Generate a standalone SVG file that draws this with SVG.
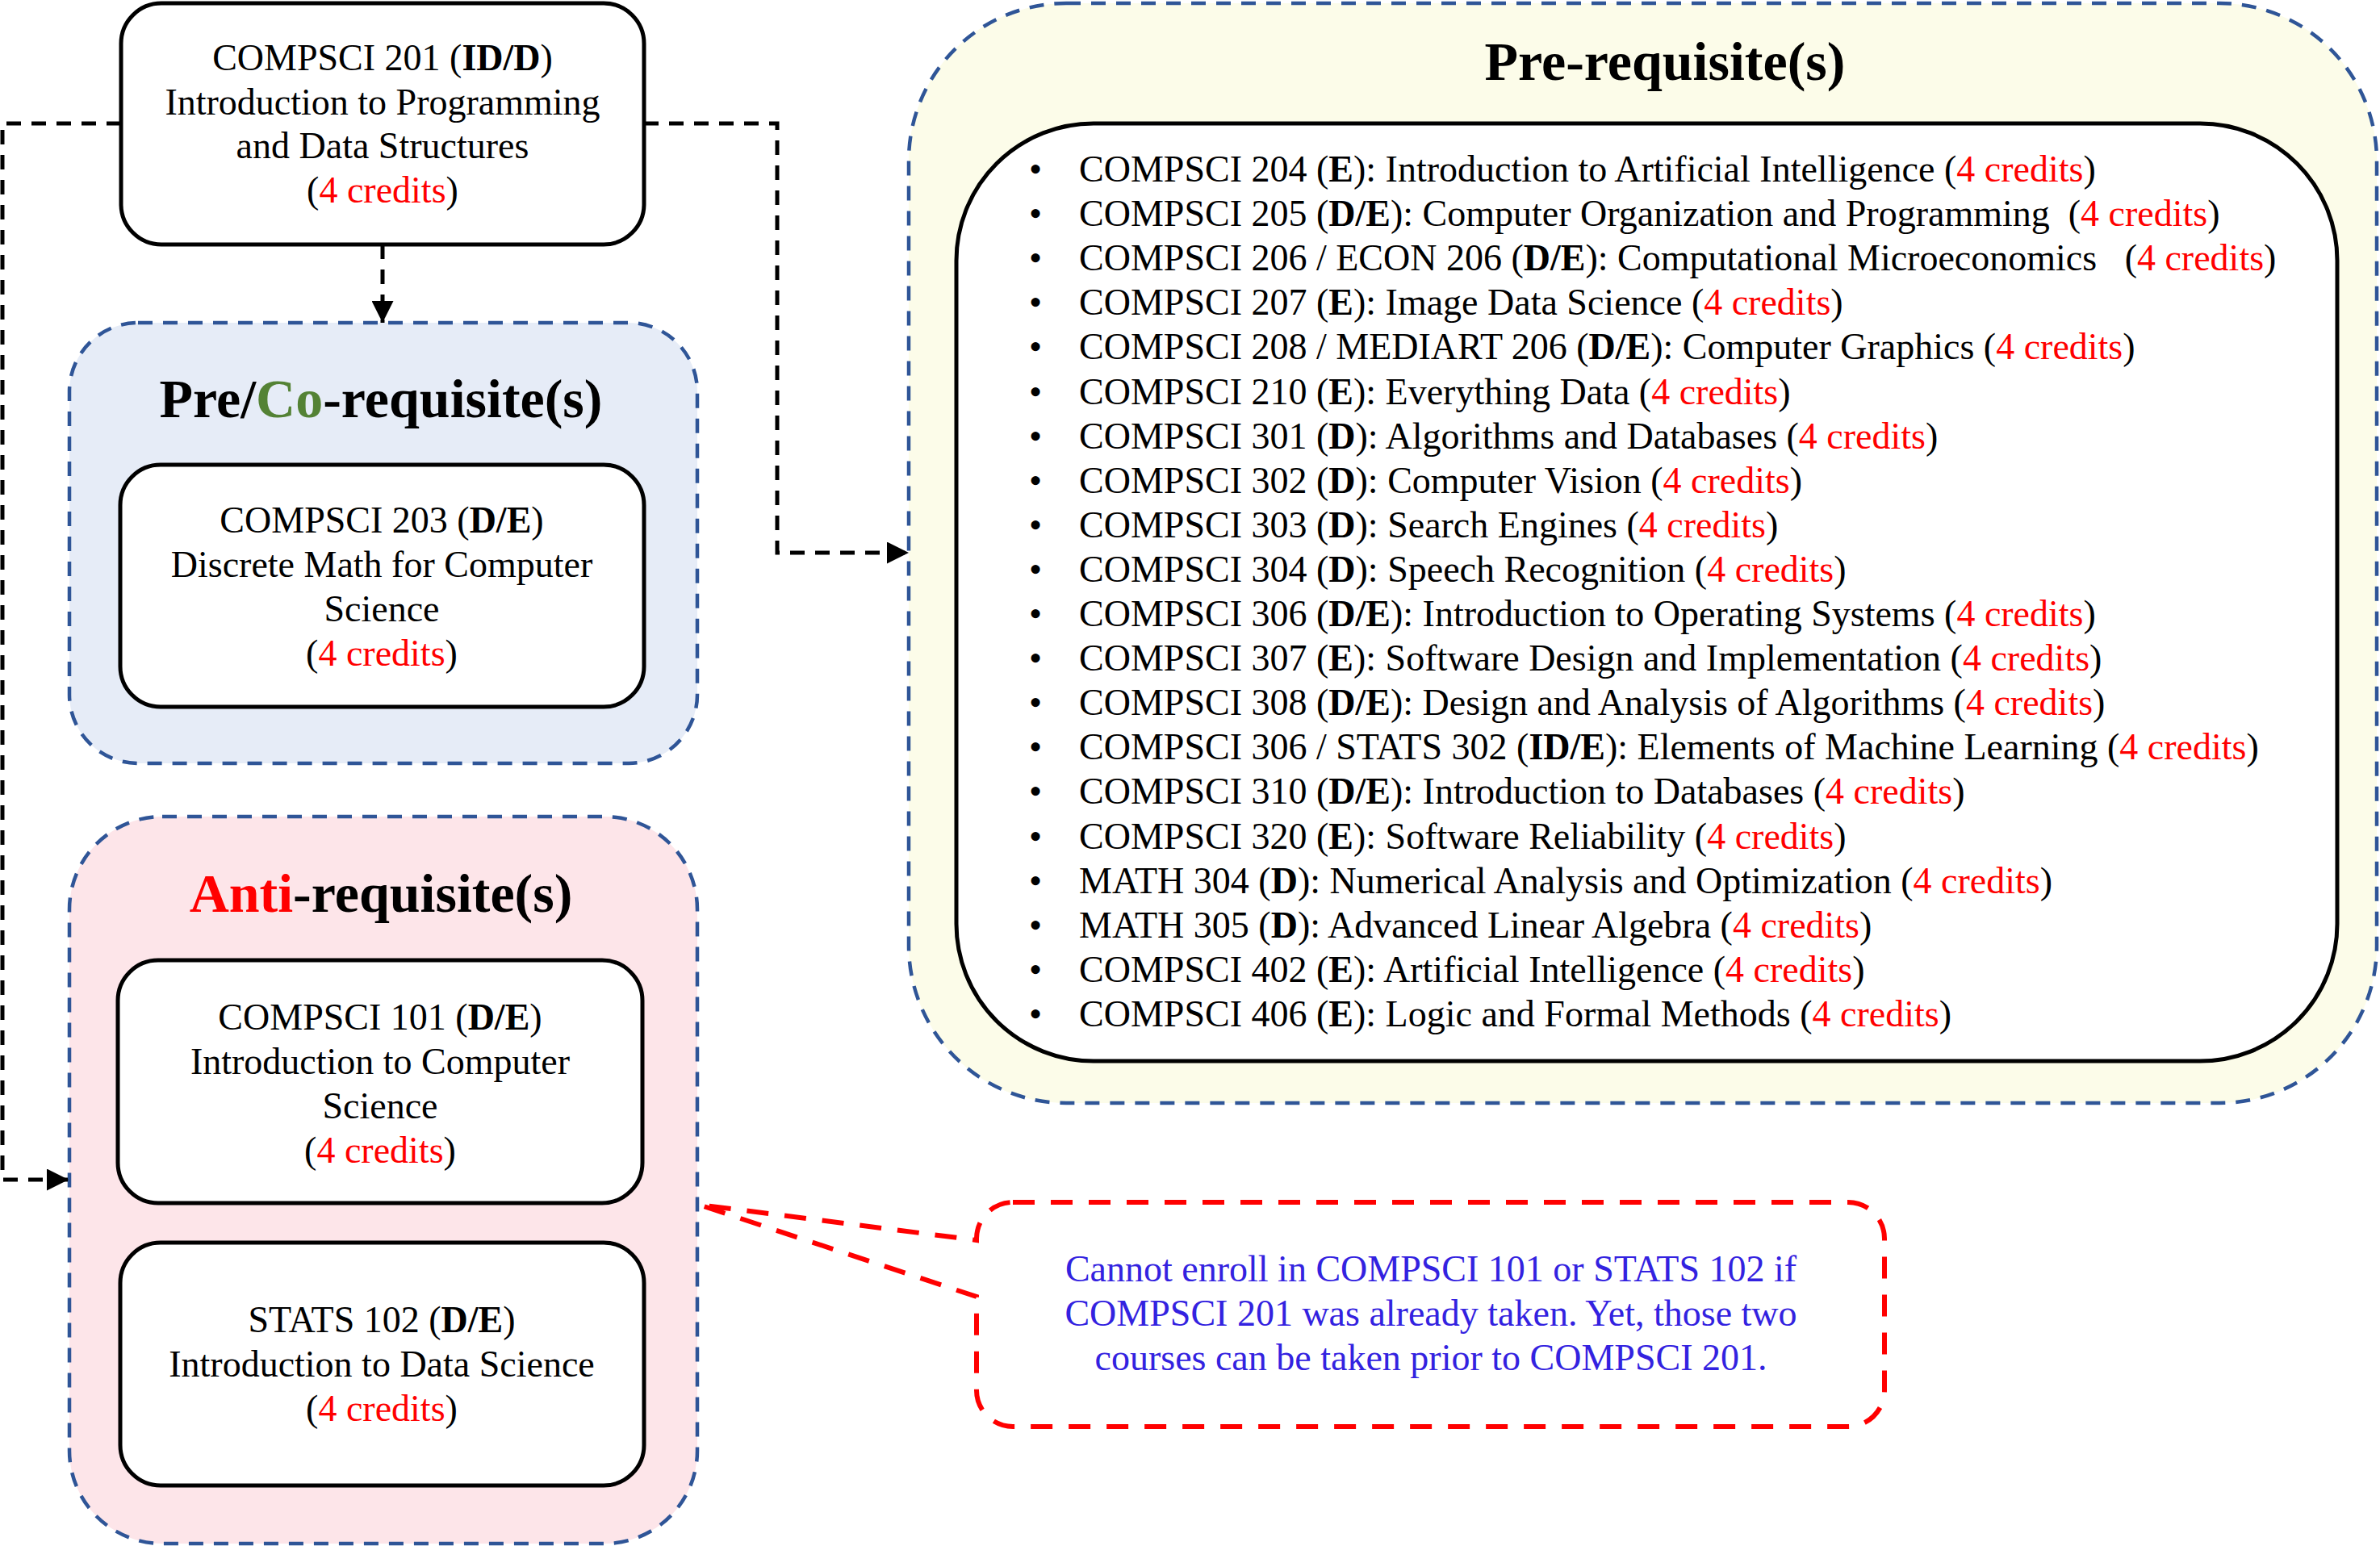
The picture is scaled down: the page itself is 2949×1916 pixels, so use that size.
<svg xmlns="http://www.w3.org/2000/svg" width="2949" height="1916" viewBox="0 0 2949 1916">
<style>
.t{font-family:"Liberation Serif","Times New Roman",serif;font-size:46px;fill:#000}
.m{text-anchor:middle}
.b{font-weight:bold}
.r{fill:#FF0000}
.g{fill:#548235}
.h{font-size:68px;font-weight:bold}
.bl{fill:#3322E0}
.box{fill:#FFFFFF;stroke:#000;stroke-width:5}
.cont{stroke:#2F5597;stroke-width:4.5;stroke-dasharray:18 13}
.conn{fill:none;stroke:#000;stroke-width:5;stroke-dasharray:18 13}
.pre{white-space:pre}
</style>
<defs>
<marker id="arr" viewBox="0 0 10 10" refX="10" refY="5" markerWidth="27" markerHeight="27" markerUnits="userSpaceOnUse" orient="auto">
<path d="M0,0 L10,5 L0,10 Z" fill="#000"/>
</marker>
</defs>
<rect width="2949" height="1916" fill="#FFFFFF"/>

<g id="prereq-container">
<rect class="cont" x="1126" y="4" width="1819" height="1363" rx="195" ry="195" fill="#FCFCE9"/>
<text class="t h m" x="2063" y="99">Pre-requisite(s)</text>
</g>

<g id="prereq-list">
<rect class="box" x="1185" y="153" width="1711" height="1162" rx="170" ry="170"/>
<g class="t">
<text x="1283" y="225" class="m">•</text><text x="1337" y="225">COMPSCI 204 (<tspan class="b">E</tspan>): Introduction to Artificial Intelligence (<tspan class="r">4 credits</tspan>)</text>
<text x="1283" y="280" class="m">•</text><text x="1337" y="280" class="pre">COMPSCI 205 (<tspan class="b">D/E</tspan>): Computer Organization and Programming  (<tspan class="r">4 credits</tspan>)</text>
<text x="1283" y="335" class="m">•</text><text x="1337" y="335" class="pre">COMPSCI 206 / ECON 206 (<tspan class="b">D/E</tspan>): Computational Microeconomics   (<tspan class="r">4 credits</tspan>)</text>
<text x="1283" y="390" class="m">•</text><text x="1337" y="390">COMPSCI 207 (<tspan class="b">E</tspan>): Image Data Science (<tspan class="r">4 credits</tspan>)</text>
<text x="1283" y="445" class="m">•</text><text x="1337" y="445">COMPSCI 208 / MEDIART 206 (<tspan class="b">D/E</tspan>): Computer Graphics (<tspan class="r">4 credits</tspan>)</text>
<text x="1283" y="501" class="m">•</text><text x="1337" y="501">COMPSCI 210 (<tspan class="b">E</tspan>): Everything Data (<tspan class="r">4 credits</tspan>)</text>
<text x="1283" y="556" class="m">•</text><text x="1337" y="556">COMPSCI 301 (<tspan class="b">D</tspan>): Algorithms and Databases (<tspan class="r">4 credits</tspan>)</text>
<text x="1283" y="611" class="m">•</text><text x="1337" y="611">COMPSCI 302 (<tspan class="b">D</tspan>): Computer Vision (<tspan class="r">4 credits</tspan>)</text>
<text x="1283" y="666" class="m">•</text><text x="1337" y="666">COMPSCI 303 (<tspan class="b">D</tspan>): Search Engines (<tspan class="r">4 credits</tspan>)</text>
<text x="1283" y="721" class="m">•</text><text x="1337" y="721">COMPSCI 304 (<tspan class="b">D</tspan>): Speech Recognition (<tspan class="r">4 credits</tspan>)</text>
<text x="1283" y="776" class="m">•</text><text x="1337" y="776">COMPSCI 306 (<tspan class="b">D/E</tspan>): Introduction to Operating Systems (<tspan class="r">4 credits</tspan>)</text>
<text x="1283" y="831" class="m">•</text><text x="1337" y="831">COMPSCI 307 (<tspan class="b">E</tspan>): Software Design and Implementation (<tspan class="r">4 credits</tspan>)</text>
<text x="1283" y="886" class="m">•</text><text x="1337" y="886">COMPSCI 308 (<tspan class="b">D/E</tspan>): Design and Analysis of Algorithms (<tspan class="r">4 credits</tspan>)</text>
<text x="1283" y="941" class="m">•</text><text x="1337" y="941">COMPSCI 306 / STATS 302 (<tspan class="b">ID/E</tspan>): Elements of Machine Learning (<tspan class="r">4 credits</tspan>)</text>
<text x="1283" y="996" class="m">•</text><text x="1337" y="996">COMPSCI 310 (<tspan class="b">D/E</tspan>): Introduction to Databases (<tspan class="r">4 credits</tspan>)</text>
<text x="1283" y="1052" class="m">•</text><text x="1337" y="1052">COMPSCI 320 (<tspan class="b">E</tspan>): Software Reliability (<tspan class="r">4 credits</tspan>)</text>
<text x="1283" y="1107" class="m">•</text><text x="1337" y="1107">MATH 304 (<tspan class="b">D</tspan>): Numerical Analysis and Optimization (<tspan class="r">4 credits</tspan>)</text>
<text x="1283" y="1162" class="m">•</text><text x="1337" y="1162">MATH 305 (<tspan class="b">D</tspan>): Advanced Linear Algebra (<tspan class="r">4 credits</tspan>)</text>
<text x="1283" y="1217" class="m">•</text><text x="1337" y="1217">COMPSCI 402 (<tspan class="b">E</tspan>): Artificial Intelligence (<tspan class="r">4 credits</tspan>)</text>
<text x="1283" y="1272" class="m">•</text><text x="1337" y="1272">COMPSCI 406 (<tspan class="b">E</tspan>): Logic and Formal Methods (<tspan class="r">4 credits</tspan>)</text>
</g>
</g>

<g id="precoreq-container">
<rect class="cont" x="86" y="400" width="778" height="546" rx="85" ry="85" fill="#E6ECF7"/>
<text class="t h m" x="472" y="517">Pre/<tspan class="g">Co</tspan>-requisite(s)</text>
</g>

<g id="compsci203">
<rect class="box" x="149" y="576" width="649" height="300" rx="50" ry="50"/>
<g class="t m">
<text x="473" y="660">COMPSCI 203 (<tspan class="b">D/E</tspan>)</text>
<text x="473" y="715">Discrete Math for Computer</text>
<text x="473" y="770">Science</text>
<text x="473" y="825">(<tspan class="r">4 credits</tspan>)</text>
</g>
</g>

<g id="antireq-container">
<rect class="cont" x="86" y="1012" width="778" height="901" rx="115" ry="115" fill="#FDE5E9"/>
<text class="t h m" x="472" y="1130"><tspan class="r">Anti</tspan>-requisite(s)</text>
</g>

<g id="compsci101">
<rect class="box" x="146" y="1190" width="650" height="301" rx="50" ry="50"/>
<g class="t m">
<text x="471" y="1276">COMPSCI 101 (<tspan class="b">D/E</tspan>)</text>
<text x="471" y="1331">Introduction to Computer</text>
<text x="471" y="1386">Science</text>
<text x="471" y="1441">(<tspan class="r">4 credits</tspan>)</text>
</g>
</g>

<g id="stats102">
<rect class="box" x="149" y="1540" width="649" height="301" rx="50" ry="50"/>
<g class="t m">
<text x="473" y="1651">STATS 102 (<tspan class="b">D/E</tspan>)</text>
<text x="473" y="1706">Introduction to Data Science</text>
<text x="473" y="1761">(<tspan class="r">4 credits</tspan>)</text>
</g>
</g>

<g id="compsci201">
<rect class="box" x="150" y="4" width="648" height="299" rx="50" ry="50"/>
<g class="t m">
<text x="474" y="87">COMPSCI 201 (<tspan class="b">ID/D</tspan>)</text>
<text x="474" y="142">Introduction to Programming</text>
<text x="474" y="196">and Data Structures</text>
<text x="474" y="251">(<tspan class="r">4 credits</tspan>)</text>
</g>
</g>

<g id="callout">
<path d="M1255,1490 H2290 A45,45 0 0 1 2335,1535 V1723 A45,45 0 0 1 2290,1768 H1255 A45,45 0 0 1 1210,1723 V1607 L866,1493 L1210,1537 V1535 A45,45 0 0 1 1255,1490 Z" fill="#FFFFFF" stroke="#FF0000" stroke-width="6" stroke-dasharray="27 20"/>
<g class="t m bl">
<text x="1773" y="1588">Cannot enroll in COMPSCI 101 or STATS 102 if</text>
<text x="1773" y="1643">COMPSCI 201 was already taken. Yet, those two</text>
<text x="1773" y="1698">courses can be taken prior to COMPSCI 201.</text>
</g>
</g>

<g id="connectors">
<path class="conn" d="M150,153 H3 V1462 H85" marker-end="url(#arr)"/>
<path class="conn" d="M798,153 H963 V685 H1126" marker-end="url(#arr)"/>
<path class="conn" d="M474,303 V400" marker-end="url(#arr)"/>
</g>
</svg>
